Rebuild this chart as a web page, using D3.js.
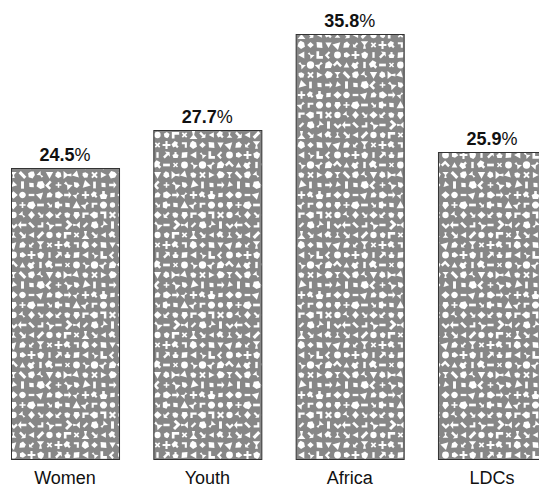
<!DOCTYPE html>
<html>
<head>
<meta charset="utf-8">
<script src="https://cdn.jsdelivr.net/npm/d3@7"></script>
<style>
  html, body { margin: 0; padding: 0; background: #fff; overflow: hidden; }
  svg { display: block; }
  text { font-family: "Liberation Sans", Arial, Helvetica, sans-serif; fill: #111; }
</style>
</head>
<body>
<script>
// Share of each group, in percent
const categories = ["Women", "Youth", "Africa", "LDCs"];
const values = [24.5, 27.7, 35.8, 25.9];

const width = 539, height = 488;
const baseY = 459, topY = 34;

const svg = d3.select("body").append("svg")
  .attr("width", width)
  .attr("height", height);

// Texture: grey ground with a grid of small white glyphs
const tileW = 108, tileH = 100, cols = 12, rows = 10;
const dx = tileW / cols, dy = tileH / rows;
const glyphs = [
  "M-2.8,0a2.8,2.8 0 1,0 5.6,0a2.8,2.8 0 1,0 -5.6,0Z",
  "M-3,2.5L0,-3L3,2.5Z",
  "M-3,-1L1,-1L1,-3L3.5,0L1,3L1,1L-3,1Z",
  "M-0.8,-3L0.8,-3L0.8,-0.8L3,-0.8L3,0.8L0.8,0.8L0.8,3L-0.8,3L-0.8,0.8L-3,0.8L-3,-0.8L-0.8,-0.8Z",
  "M-2.5,-3L-0.3,-3L-0.3,0.8L2.8,0.8L2.8,3L-2.5,3Z",
  "M0,-3.2L2.8,0L0,3.2L-2.8,0Z",
  "M-3,-1.2L3,-1.2L3,1.2L-3,1.2Z",
  "M-2.5,-2.8L1.5,-2.2L3,0.5L0.5,3L-2.2,1.8Z",
  "M-3,-3L3,-3L0.5,0L1.2,3L-1.2,3L-0.5,0Z",
  "M-2,-3L2,-3L3,0L1,1L1,3L-1,3L-1,1L-3,0Z",
  "M-3,-2L0,-3L3,-1L2,2.5L-1.5,3L-3,0.5Z"
];

const defs = svg.append("defs");
const pattern = defs.append("pattern")
  .attr("id", "tex")
  .attr("patternUnits", "userSpaceOnUse")
  .attr("width", tileW)
  .attr("height", tileH);
pattern.append("rect")
  .attr("width", tileW).attr("height", tileH)
  .attr("fill", "#878787");

const cells = d3.cross(d3.range(rows), d3.range(cols));
pattern.selectAll("path")
  .data(cells)
  .join("path")
  .attr("d", ([r, c]) => glyphs[(c * 7 + r * 3 + ((c * r) % 5)) % glyphs.length])
  .attr("transform", ([r, c]) => {
    const rot = ((c * 37 + r * 61) % 8) * 45;
    const s = 0.95 + ((c * 13 + r * 29) % 5) * 0.09;
    return `translate(${dx * c + dx / 2},${dy * r + dy / 2}) rotate(${rot}) scale(${s})`;
  })
  .attr("fill", "#fff");

const x = d3.scaleBand()
  .domain(categories)
  .range([11, 546])
  .paddingInner(0.241)
  .paddingOuter(0);

const y = d3.scaleLinear()
  .domain([0, d3.max(values)])
  .range([baseY, topY]);

const data = categories.map((c, i) => ({ cat: c, val: values[i] }));

const bars = svg.append("g");
bars.selectAll("rect")
  .data(data)
  .join("rect")
  .attr("x", d => x(d.cat) + 0.5)
  .attr("y", d => Math.round(y(d.val)) + 0.5)
  .attr("width", x.bandwidth())
  .attr("height", d => baseY - Math.round(y(d.val)))
  .attr("fill", "url(#tex)")
  .attr("stroke", "#333")
  .attr("stroke-width", 1);

// Value labels: bold number, regular percent sign
const lab = svg.append("g").selectAll("text")
  .data(data)
  .join("text")
  .attr("x", d => x(d.cat) + x.bandwidth() / 2)
  .attr("y", d => y(d.val) - 7)
  .attr("text-anchor", "middle")
  .attr("font-size", 18);
lab.append("tspan").attr("font-weight", "bold").text(d => d.val.toFixed(1));
lab.append("tspan").text("%");

// Category axis labels
const xAxis = d3.axisBottom(x).tickSize(0).tickPadding(0);
const ax = svg.append("g")
  .attr("transform", `translate(0,${baseY})`)
  .call(xAxis);
ax.select(".domain").remove();
ax.selectAll("text")
  .attr("y", 25)
  .attr("dy", 0)
  .attr("font-size", 18)
  .attr("font-family", "\"Liberation Sans\", Arial, Helvetica, sans-serif")
  .attr("fill", "#111");
</script>
</body>
</html>
